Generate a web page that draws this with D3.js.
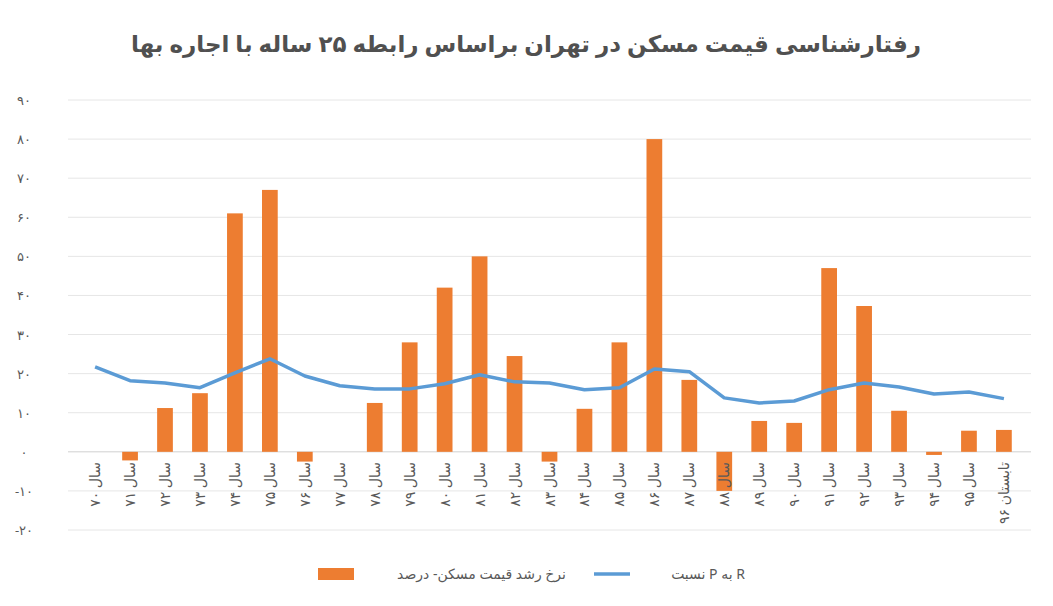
<!DOCTYPE html>
<html><head><meta charset="utf-8">
<script src="https://cdn.jsdelivr.net/npm/d3@7/dist/d3.min.js"></script>
<style>body{margin:0;background:#fff}</style></head>
<body><svg id="c" width="1053" height="606"></svg>
<script>
const categories=["سال ۷۰","سال ۷۱","سال ۷۲","سال ۷۳","سال ۷۴","سال ۷۵","سال ۷۶","سال ۷۷","سال ۷۸","سال ۷۹","سال ۸۰","سال ۸۱","سال ۸۲","سال ۸۳","سال ۸۴","سال ۸۵","سال ۸۶","سال ۸۷","سال ۸۸","سال ۸۹","سال ۹۰","سال ۹۱","سال ۹۲","سال ۹۳","سال ۹۴","سال ۹۵","تابستان ۹۶"];
const growth=[0,-2.2,11.2,15,61,67,-2.5,0,12.5,28,42,50,24.5,-2.5,11,28,80,18.4,-10,7.9,7.4,47,37.3,10.5,-0.8,5.4,5.6];
const ratio=[21.7,18.2,17.6,16.4,20.2,23.8,19.4,16.9,16.1,16.1,17.4,19.7,17.9,17.6,15.9,16.4,21.2,20.5,13.8,12.5,13,15.9,17.6,16.6,14.8,15.3,13.6];
const yTicks=[-20,-10,0,10,20,30,40,50,60,70,80,90];
const fa=n=>String(n).replace(/\d/g,d=>"۰۱۲۳۴۵۶۷۸۹"[d]);
const svg=d3.select("#c");
const x=d3.scaleBand().domain(categories).range([68,1031]).padding(0.55);
const y=d3.scaleLinear().domain([-20,90]).range([530,100]);
const F="'Noto Sans','DejaVu Sans',sans-serif";
svg.append("text").attr("x",526).attr("y",52).attr("text-anchor","middle").attr("font-family",F).attr("font-weight","bold").attr("font-size",23).attr("fill","#505050").text("رفتارشناسی قیمت مسکن در تهران براساس رابطه ۲۵ ساله با اجاره بها");
svg.append("g").selectAll("line").data(yTicks).join("line").attr("x1",68).attr("x2",1031).attr("y1",d=>y(d)).attr("y2",d=>y(d)).attr("stroke",d=>d===0?"#d0d0d0":"#e6e6e6");
svg.append("g").selectAll("text").data(yTicks).join("text").attr("x",24).attr("y",d=>y(d)+5).attr("text-anchor","middle").attr("font-family",F).attr("font-size",13).attr("fill","#595959").text(d=>d<0?"-"+fa(-d):fa(d));
svg.append("g").selectAll("rect").data(growth).join("rect").attr("x",(d,i)=>x(categories[i])).attr("width",x.bandwidth()).attr("y",d=>y(Math.max(0,d))).attr("height",d=>Math.abs(y(d)-y(0))).attr("fill","#ed7d31");
svg.append("path").datum(ratio).attr("fill","none").attr("stroke","#5b9bd5").attr("stroke-width",3.5).attr("stroke-linejoin","round")
 .attr("d",d3.line().x((d,i)=>x(categories[i])+x.bandwidth()/2).y(d=>y(d)));
svg.append("g").selectAll("text").data(categories).join("text").attr("transform",d=>`translate(${x(d)+x.bandwidth()/2+5},462) rotate(-90)`).attr("text-anchor","end").attr("font-family",F).attr("font-size",14).attr("fill","#595959").text(d=>d);
const lg=svg.append("g").attr("font-family",F).attr("font-size",14).attr("fill","#595959");
lg.append("rect").attr("x",318).attr("y",568).attr("width",36).attr("height",12).attr("fill","#ed7d31");
lg.append("text").attr("x",566).attr("y",579).attr("text-anchor","end").text("نرخ رشد قیمت مسکن- درصد");
lg.append("line").attr("x1",594).attr("x2",630).attr("y1",574).attr("y2",574).attr("stroke","#5b9bd5").attr("stroke-width",3.5);
lg.append("text").attr("x",745).attr("y",579).attr("text-anchor","end").text("نسبت P به R");
</script></body></html>
